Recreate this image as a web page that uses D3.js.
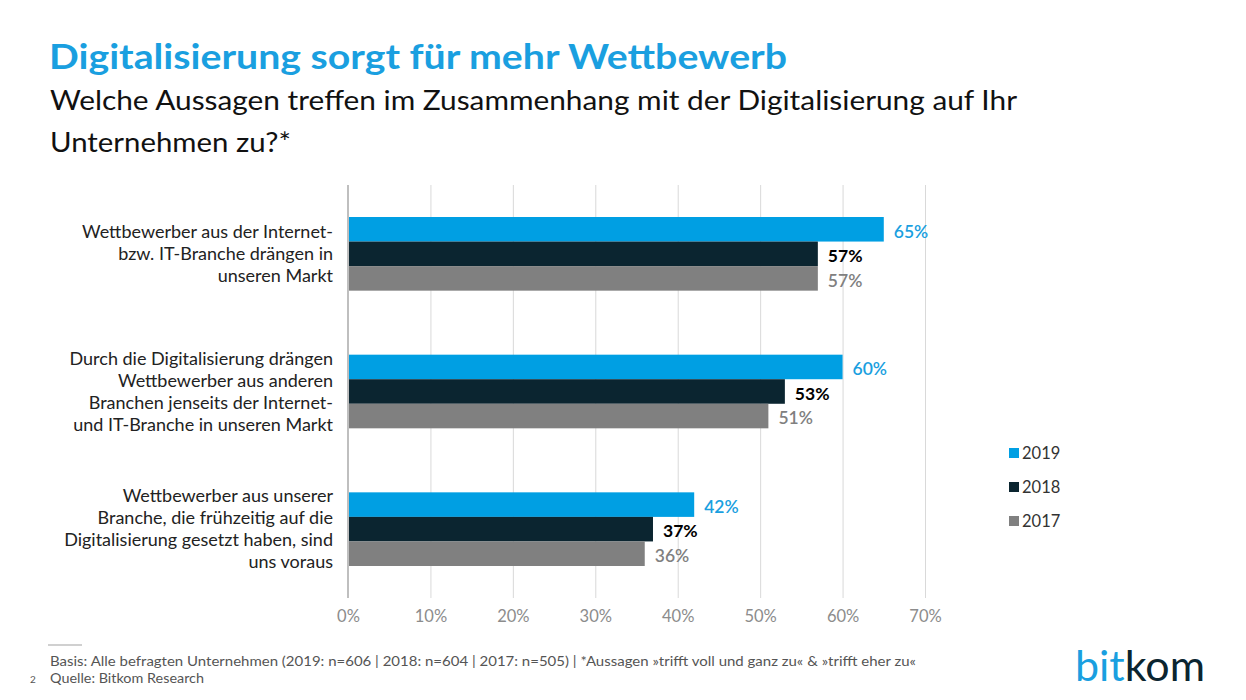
<!DOCTYPE html>
<html><head><meta charset="utf-8">
<script src="https://cdn.jsdelivr.net/npm/d3@7"></script>
<style>body{margin:0;background:#fff}svg{display:block}text{font-family:Lato,"Open Sans",sans-serif}</style>
</head><body>
<svg id="c" width="1246" height="700"></svg>
<script>
const categories = [
  ["Wettbewerber aus der Internet-","bzw. IT-Branche drängen in","unseren Markt"],
  ["Durch die Digitalisierung drängen","Wettbewerber aus anderen","Branchen jenseits der Internet-","und IT-Branche in unseren Markt"],
  ["Wettbewerber aus unserer","Branche, die frühzeitig auf die","Digitalisierung gesetzt haben, sind","uns voraus"]
];
const seriesNames = ["2019","2018","2017"];
const values2019 = [65,60,42];
const values2018 = [57,53,37];
const values2017 = [57,51,36];
const xTicks = [0,10,20,30,40,50,60,70];

const colors = {"2019":"#009fe3","2018":"#0b2530","2017":"#808080"};
const labelColors = {"2019":"#1a9fe0","2018":"#000000","2017":"#808080"};
const series = {"2019":values2019,"2018":values2018,"2017":values2017};

const svg = d3.select("#c");
const pLeft = 348, pRight = 925, pTop = 185, pBottom = 598;

const x = d3.scaleLinear().domain([0,70]).range([pLeft,pRight]);
const y0 = d3.scaleBand().domain(d3.range(categories.length)).range([pTop,pBottom]).paddingInner(0.465).paddingOuter(0.2325);
const y1 = d3.scaleBand().domain(seriesNames).range([0,y0.bandwidth()]);

// title
svg.append("text").attr("x",49).attr("y",69).attr("fill","#1a9fe0").attr("font-weight","bold")
  .attr("font-size",35).attr("textLength",738).attr("lengthAdjust","spacingAndGlyphs").text("Digitalisierung sorgt für mehr Wettbewerb");
svg.append("text").attr("x",50).attr("y",110).attr("fill","#111").attr("font-size",27)
  .attr("textLength",967).attr("lengthAdjust","spacingAndGlyphs").text("Welche Aussagen treffen im Zusammenhang mit der Digitalisierung auf Ihr");
svg.append("text").attr("x",50).attr("y",152).attr("fill","#111").attr("font-size",27)
  .attr("textLength",241).attr("lengthAdjust","spacingAndGlyphs").text("Unternehmen zu?*");

// gridlines
const grid = svg.append("g").attr("transform",`translate(0,${pBottom})`)
  .call(d3.axisBottom(x).tickValues(xTicks).tickFormat(d=>d+"%").tickSize(-(pBottom-pTop)).tickPadding(12));
grid.select(".domain").remove();
grid.selectAll(".tick line").attr("stroke","#d9d9d9").attr("stroke-width",1);
grid.selectAll(".tick text").attr("fill","#8c8c8c").attr("font-size",16.5).attr("font-family","Lato,sans-serif");

// bars
const g = svg.append("g");
categories.forEach((c,i)=>{
  seriesNames.forEach(s=>{
    const v = series[s][i];
    const yy = y0(i)+y1(s);
    g.append("rect").attr("x",x(0)).attr("y",yy).attr("width",x(v)-x(0)).attr("height",y1.bandwidth()).attr("fill",colors[s]);
    g.append("text").attr("x",x(v)+10).attr("y",yy+y1.bandwidth()/2+2).attr("dy","0.36em")
      .attr("fill",labelColors[s]).attr("font-size",17.5).attr("font-weight", s==="2018"?"bold":"600").text(v+"%");
  });
  const lines = c;
  const lh = 22;
  const cy = y0(i)+y0.bandwidth()/2;
  const startY = cy - (lines.length-1)*lh/2;
  const t = svg.append("text").attr("text-anchor","end").attr("fill","#222").attr("font-size",18);
  lines.forEach((l,k)=>{
    t.append("tspan").attr("x",333).attr("y",startY+k*lh).attr("dy","0.35em").text(l);
  });
});

// axis line at 0
svg.append("line").attr("x1",x(0)).attr("x2",x(0)).attr("y1",pTop).attr("y2",pBottom).attr("stroke","#bfbfbf").attr("stroke-width",2);

// legend
const lg = svg.append("g");
seriesNames.forEach((s,k)=>{
  const ly = 453 + k*34;
  lg.append("rect").attr("x",1009).attr("y",ly-5).attr("width",10).attr("height",10).attr("fill",colors[s]);
  lg.append("text").attr("x",1022).attr("y",ly).attr("dy","0.36em").attr("fill","#333").attr("font-size",16.5).text(s);
});

// footer
svg.append("line").attr("x1",48).attr("x2",82).attr("y1",645).attr("y2",645).attr("stroke","#d0d0d0").attr("stroke-width",2);
svg.append("text").attr("x",50).attr("y",666).attr("fill","#555").attr("font-size",13.5)
  .attr("textLength",866).attr("lengthAdjust","spacingAndGlyphs")
  .text("Basis: Alle befragten Unternehmen (2019: n=606 | 2018: n=604 | 2017: n=505) | *Aussagen »trifft voll und ganz zu« & »trifft eher zu«");
svg.append("text").attr("x",30).attr("y",683).attr("fill","#555").attr("font-size",10).text("2");
svg.append("text").attr("x",50).attr("y",683).attr("fill","#555").attr("font-size",13.5)
  .attr("textLength",154).attr("lengthAdjust","spacingAndGlyphs").text("Quelle: Bitkom Research");

// logo
const logo = svg.append("text").attr("x",1075).attr("y",681).attr("font-size",42)
  .attr("font-family","'DejaVu Sans Condensed','Liberation Sans Narrow',sans-serif")
  .attr("textLength",130).attr("lengthAdjust","spacingAndGlyphs");
logo.append("tspan").attr("fill","#1a9fe0").text("bit");
logo.append("tspan").attr("fill","#0b2530").text("kom");
</script>
</body></html>
